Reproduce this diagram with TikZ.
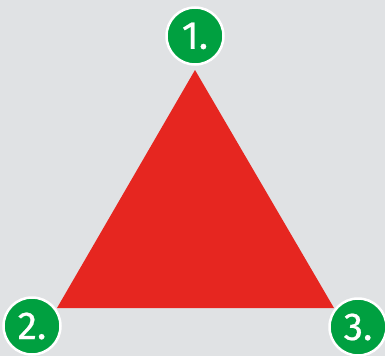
\documentclass[tikz,border=0pt]{standalone}
\usepackage{fontspec}
\setmainfont{Fira Sans}
\newfontfamily\numfont[FakeBold=0.5]{Fira Sans}
\definecolor{bg}{HTML}{E0E2E4}
\definecolor{tri}{HTML}{E62620}
\definecolor{grn}{HTML}{00A040}
\tikzset{
  num/.style={circle, fill=grn, draw=white, line width=2.5pt, minimum size=57pt, inner sep=0pt, text=white, font=\numfont\fontsize{39}{39}\selectfont}
}
\begin{document}
\begin{tikzpicture}[x=1pt,y=-1pt]
\fill[bg] (0,0) rectangle (385,356);
\useasboundingbox (0,0) rectangle (385,356);
\coordinate (A) at (195,70);
\coordinate (B) at (57,308);
\coordinate (C) at (334,308);
\fill[tri] (A) -- (B) -- (C) -- cycle;
\node[num] (n1) at (195,36) {1.};
\node[num] (n2) at (32,326) {2.};
\node[num] (n3) at (358,327) {3.};
\end{tikzpicture}
\end{document}
